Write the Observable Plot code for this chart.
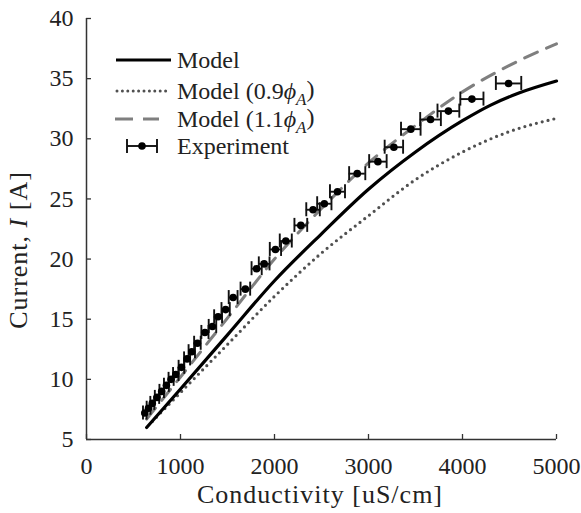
<!DOCTYPE html>
<html>
<head>
<meta charset="utf-8">
<script src="https://cdn.jsdelivr.net/npm/d3@7"></script>
<script src="https://cdn.jsdelivr.net/npm/@observablehq/plot@0.6"></script>
<style>
  html, body { margin: 0; padding: 0; background: #fff; }
  #chart { position: relative; width: 581px; height: 513px; }
</style>
</head>
<body>
<div id="chart"></div>
<script>
// ---- data ----
const xTicks = [0, 1000, 2000, 3000, 4000, 5000];
const yTicks = [5, 10, 15, 20, 25, 30, 35, 40];

const modelX = [640, 1000, 1500, 2000, 2500, 3000, 3500, 4000, 4300, 4600, 5000];
const modelY = [6.0, 9.2, 13.7, 18.2, 22.1, 25.8, 28.9, 31.5, 32.8, 33.8, 34.8];

const lowX = [700, 1000, 1500, 2000, 2500, 3000, 3500, 4000, 4500, 5000];
const lowY = [6.5, 8.9, 12.9, 16.9, 20.5, 23.6, 26.6, 28.9, 30.6, 31.7];

const highX = [640, 1000, 1500, 2000, 2500, 3000, 3500, 4000, 4500, 5000];
const highY = [6.7, 10.2, 15.1, 20.0, 24.2, 28.0, 31.1, 33.9, 36.1, 37.9];

const expX = [620, 660, 700, 750, 800, 850, 900, 950, 1010, 1070, 1120, 1180, 1260, 1340, 1400, 1480, 1560, 1690, 1810, 1890, 2010, 2120, 2280, 2410, 2530, 2670, 2880, 3100, 3270, 3450, 3660, 3850, 4100, 4490];
const expY = [7.2, 7.6, 8.0, 8.5, 9.0, 9.5, 10.0, 10.4, 11.0, 11.7, 12.3, 13.0, 13.9, 14.4, 15.2, 15.8, 16.8, 17.5, 19.2, 19.6, 20.8, 21.5, 22.8, 24.1, 24.6, 25.6, 27.1, 28.1, 29.3, 30.8, 31.6, 32.3, 33.3, 34.6];
const expErr = [19, 20, 21, 23, 24, 26, 27, 29, 30, 32, 34, 35, 38, 40, 42, 44, 47, 51, 54, 57, 60, 64, 68, 72, 76, 80, 86, 93, 98, 104, 110, 116, 123, 135];

const legendLabels = ["Model", "Model (0.9", "Model (1.1", "Experiment"];
const xTitle = "Conductivity [uS/cm]";

// ---- tables ----
const model = modelX.map((x, i) => ({x, y: modelY[i]}));
const low = lowX.map((x, i) => ({x, y: lowY[i]}));
const high = highX.map((x, i) => ({x, y: highY[i]}));
const exp = expX.map((x, i) => ({x, y: expY[i], lo: x - expErr[i], hi: x + expErr[i]}));

const FONT = "'Liberation Serif', 'Times New Roman', serif";
const axisColor = "#333";

const svg = Plot.plot({
  width: 581,
  height: 513,
  marginLeft: 86,
  marginRight: 25,
  marginTop: 18,
  marginBottom: 74,
  style: {fontFamily: FONT, fontSize: "24px", background: "white", color: "#222"},
  x: {domain: [0, 5000]},
  y: {domain: [5, 40]},
  marks: [
    Plot.axisX(xTicks, {tickSize: 0, tickPadding: 17, label: null, tickFormat: d => String(d), fontSize: 24}),
    Plot.axisY(yTicks, {tickSize: 0, tickPadding: 13, label: null, tickFormat: d => String(d), fontSize: 24}),
    // inward ticks
    Plot.ruleX(xTicks, {x: d => d, y1: 5, y2: 5, insetBottom: 5, stroke: axisColor, strokeWidth: 1.3}),
    Plot.ruleY(yTicks, {y: d => d, x1: 0, x2: 0, insetRight: -5, stroke: axisColor, strokeWidth: 1.3}),
    // axis lines
    Plot.ruleX([0], {stroke: axisColor, strokeWidth: 1.5}),
    Plot.ruleY([5], {stroke: axisColor, strokeWidth: 1.5}),
    // model curves
    Plot.line(low, {x: "x", y: "y", curve: "monotone-x", stroke: "#505050", strokeWidth: 3.2, strokeDasharray: "0,6", strokeLinecap: "round"}),
    Plot.line(high, {x: "x", y: "y", curve: "monotone-x", stroke: "#7f7f7f", strokeWidth: 3, strokeDasharray: "14,10"}),
    Plot.line(model, {x: "x", y: "y", curve: "monotone-x", stroke: "#000", strokeWidth: 3.2}),
    // experiment error bars
    Plot.ruleY(exp, {y: "y", x1: "lo", x2: "hi", stroke: "#111", strokeWidth: 1.9}),
    Plot.ruleX(exp, {x: "lo", y1: "y", y2: "y", insetTop: -7, insetBottom: -7, stroke: "#111", strokeWidth: 1.9}),
    Plot.ruleX(exp, {x: "hi", y1: "y", y2: "y", insetTop: -7, insetBottom: -7, stroke: "#111", strokeWidth: 1.9}),
    Plot.dot(exp, {x: "x", y: "y", r: 3.8, fill: "#000", stroke: "none"})
  ]
});

document.getElementById("chart").appendChild(svg);

// ---- titles and legend ----
const s = d3.select(svg);

s.append("text")
  .attr("x", 320).attr("y", 503)
  .attr("text-anchor", "middle")
  .attr("font-family", FONT).attr("font-size", 26).attr("letter-spacing", 1).attr("fill", "#222")
  .text(xTitle);

const yt = s.append("text")
  .attr("transform", "translate(27,250) rotate(-90)")
  .attr("text-anchor", "middle")
  .attr("font-family", FONT).attr("font-size", 26).attr("letter-spacing", 1).attr("fill", "#222");
yt.append("tspan").text("Current, ");
yt.append("tspan").attr("font-style", "italic").text("I");
yt.append("tspan").text(" [A]");

const lg = s.append("g").attr("font-family", FONT).attr("font-size", 24).attr("fill", "#222").attr("text-anchor", "start");
const rows = [60, 91, 119, 146];
const tx = 177;
// Model
lg.append("line").attr("x1", 116).attr("x2", 171).attr("y1", rows[0]).attr("y2", rows[0])
  .attr("stroke", "#000").attr("stroke-width", 3.2);
// 0.9
lg.append("line").attr("x1", 117).attr("x2", 171).attr("y1", rows[1]).attr("y2", rows[1])
  .attr("stroke", "#505050").attr("stroke-width", 3).attr("stroke-dasharray", "0,5.4").attr("stroke-linecap", "round");
// 1.1
lg.append("line").attr("x1", 115).attr("x2", 159).attr("y1", rows[2]).attr("y2", rows[2])
  .attr("stroke", "#7f7f7f").attr("stroke-width", 3).attr("stroke-dasharray", "18,10");
// experiment marker
lg.append("line").attr("x1", 127).attr("x2", 157).attr("y1", rows[3]).attr("y2", rows[3]).attr("stroke", "#111").attr("stroke-width", 1.9);
lg.append("line").attr("x1", 127).attr("x2", 127).attr("y1", rows[3] - 7).attr("y2", rows[3] + 7).attr("stroke", "#111").attr("stroke-width", 1.9);
lg.append("line").attr("x1", 157).attr("x2", 157).attr("y1", rows[3] - 7).attr("y2", rows[3] + 7).attr("stroke", "#111").attr("stroke-width", 1.9);
lg.append("circle").attr("cx", 142).attr("cy", rows[3]).attr("r", 3.8).attr("fill", "#000");

legendLabels.forEach((lab, i) => {
  const t = lg.append("text").attr("x", tx).attr("y", rows[i]).attr("dy", "0.35em");
  t.append("tspan").text(lab);
  if (i === 1 || i === 2) {
    t.append("tspan").attr("font-style", "italic").text("\u03D5");
    t.append("tspan").attr("font-style", "italic").attr("font-size", 17).attr("dy", "0.3em").text("A");
    t.append("tspan").attr("dy", "-0.3em").text(")");
  }
});
</script>
</body>
</html>
